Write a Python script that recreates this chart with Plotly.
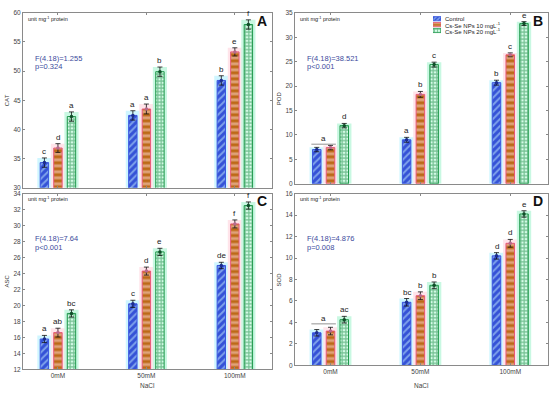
import plotly.graph_objects as go

W, H = 550, 393

categories = ['0mM', '50mM', '100mM']
series_names = ['Control', 'Cs-Se NPs 10 mgL<sup>-1</sup>', 'Cs-Se NPs 20 mgL<sup>-1</sup>']

# Panel A - CAT
cat_ctrl = [34.3, 42.4, 48.4]
cat_ctrl_err = [0.8, 0.8, 0.8]
cat_n10 = [36.8, 43.5, 53.3]
cat_n10_err = [0.75, 0.85, 0.7]
cat_n20 = [42.2, 49.9, 58.0]
cat_n20_err = [0.8, 0.8, 0.8]
cat_letters = [['c', 'a', 'b'], ['d', 'a', 'e'], ['a', 'b', 'f']]

# Panel B - POD
pod_ctrl = [7.0, 9.0, 20.7]
pod_ctrl_err = [0.45, 0.5, 0.5]
pod_n10 = [7.4, 18.3, 26.4]
pod_n10_err = [0.45, 0.6, 0.4]
pod_n20 = [11.9, 24.4, 32.8]
pod_n20_err = [0.45, 0.5, 0.4]
pod_letters = [['', 'a', 'b'], ['', 'b', 'c'], ['d', 'c', 'e']]
pod_bracket = ('a', 0, 8.1)

# Panel C - ASC
asc_ctrl = [15.8, 20.2, 25.0]
asc_ctrl_err = [0.45, 0.45, 0.4]
asc_n10 = [16.6, 24.3, 30.2]
asc_n10_err = [0.55, 0.5, 0.5]
asc_n20 = [19.0, 26.7, 32.5]
asc_n20_err = [0.45, 0.45, 0.45]
asc_letters = [['a', 'c', 'de'], ['ab', 'd', 'f'], ['bc', 'e', 'f']]

# Panel D - SOD
sod_ctrl = [3.04, 5.88, 10.2]
sod_ctrl_err = [0.3, 0.35, 0.3]
sod_n10 = [3.2, 6.49, 11.37]
sod_n10_err = [0.35, 0.36, 0.36]
sod_n20 = [4.26, 7.46, 14.1]
sod_n20_err = [0.31, 0.31, 0.3]
sod_letters = [['', 'bc', 'd'], ['', 'b', 'd'], ['ac', 'b', 'e']]
sod_bracket = ('a', 0, 3.87)

stats = [('F(4.18)=1.255', 'p=0.324'), ('F(4.18)=38.521', 'p<0.001'),
         ('F(4.18)=7.64', 'p<0.001'), ('F(4.18)=4.876', 'p=0.008')]

FONT = 'Liberation Sans, Arial, sans-serif'

def px(x):
    return x / W

def py(y):
    return 1 - y / H

panels = [
    dict(letter='A', ylabel='CAT', yr=[30, 60], dt=5,
         series=[(cat_ctrl, cat_ctrl_err), (cat_n10, cat_n10_err), (cat_n20, cat_n20_err)],
         letters=cat_letters, bracket=None,
         box=(23, 272, 9, 187), xt=False),
    dict(letter='B', ylabel='POD', yr=[0, 35], dt=5,
         series=[(pod_ctrl, pod_ctrl_err), (pod_n10, pod_n10_err), (pod_n20, pod_n20_err)],
         letters=pod_letters, bracket=pod_bracket,
         box=(295, 548, 9, 183), xt=False),
    dict(letter='C', ylabel='ASC', yr=[12, 34], dt=2,
         series=[(asc_ctrl, asc_ctrl_err), (asc_n10, asc_n10_err), (asc_n20, asc_n20_err)],
         letters=asc_letters, bracket=None,
         box=(23, 272, 193, 372), xt=True),
    dict(letter='D', ylabel='SOD', yr=[0, 16], dt=2,
         series=[(sod_ctrl, sod_ctrl_err), (sod_n10, sod_n10_err), (sod_n20, sod_n20_err)],
         letters=sod_letters, bracket=sod_bracket,
         box=(295, 548, 193, 368), xt=True),
]

styles = [
    dict(fg='#c8f2ff', bg='#3452d6', line='#3a55e0', halo='#cff6ff', shape='/', mk='#1b2d8f',
         size=5, sol=0.4),
    dict(fg='#ffd9dc', bg='#bd6a17', line='#e8587a', halo='#ffe4ea', shape='-', mk='#b86a8c',
         size=6, sol=0.5),
    dict(fg='#17873f', bg='#d6fce8', line='#20994c', halo='#c9f8e2', shape='+', mk='#0e4f28',
         size=3.5, sol=0.6),
]
offsets = [-0.153, 0.0, 0.153]
bar_w = 0.095
halo_w = 0.16

fig = go.Figure()
annotations = []
shapes = []
layout = {}

pos = list(range(len(categories)))

for pi, p in enumerate(panels):
    sfx = '' if pi == 0 else str(pi + 1)
    xa, ya = 'x' + sfx, 'y' + sfx
    x0, x1, y0, y1 = p['box']
    for si, (vals, errs) in enumerate(p['series']):
        st = styles[si]
        tops = [v + e for v, e in zip(vals, errs)]
        fig.add_trace(go.Bar(
            x=pos, y=tops, xaxis=xa, yaxis=ya, width=halo_w,
            offset=offsets[si] - halo_w / 2,
            marker=dict(color=st['halo'], line=dict(width=0)),
            showlegend=False, hoverinfo='skip'))
        fig.add_trace(go.Bar(
            x=pos, y=vals, xaxis=xa, yaxis=ya, width=bar_w,
            offset=offsets[si] - bar_w / 2, name=series_names[si],
            marker=dict(color=st['bg'], line=dict(color=st['line'], width=1),
                        pattern=dict(shape=st['shape'], fgcolor=st['fg'], bgcolor=st['bg'],
                                     size=st['size'], solidity=st['sol'], fillmode='overlay')),
            error_y=dict(type='data', array=errs, color='#111111', thickness=0.8, width=2.5),
            showlegend=False))
        fig.add_trace(go.Scatter(
            x=[i + offsets[si] for i in pos], y=vals, xaxis=xa, yaxis=ya, mode='markers',
            marker=dict(size=3.5, color=st['mk']), showlegend=False, hoverinfo='skip'))
        for i in pos:
            lt = p['letters'][si][i]
            if lt:
                annotations.append(dict(x=i + offsets[si], y=tops[i], xref=xa, yref=ya,
                                        text=lt, showarrow=False, yanchor='bottom', yshift=0,
                                        font=dict(size=8, color='#222222', family=FONT)))
    if p['bracket']:
        lt, ci, yv = p['bracket']
        xa0 = ci + offsets[0] - 0.06
        xa1 = ci + offsets[1] + 0.06
        shapes.append(dict(type='line', xref=xa, yref=ya, x0=xa0, x1=xa1, y0=yv, y1=yv,
                           line=dict(color='#777777', width=0.8)))
        annotations.append(dict(x=(xa0 + xa1) / 2, y=yv, xref=xa, yref=ya, text=lt,
                                showarrow=False, yanchor='bottom', yshift=-1,
                                font=dict(size=8, color='#222222', family=FONT)))
    layout['xaxis' + sfx] = dict(
        domain=[px(x0), px(x1)], range=[-0.395, 2.42], anchor=ya,
        tickvals=pos, ticktext=categories, showticklabels=p['xt'],
        ticks='inside', ticklen=2, tickcolor='#888888', mirror='ticks',
        showline=True, linecolor='#8a8a8a', linewidth=1, showgrid=False, zeroline=False,
        tickfont=dict(size=6.5, color='#444444', family=FONT))
    layout['yaxis' + sfx] = dict(
        domain=[py(y1), py(y0)], range=p['yr'], dtick=p['dt'], anchor=xa,
        ticks='inside', ticklen=2, tickcolor='#888888', mirror='ticks',
        showline=True, linecolor='#8a8a8a', linewidth=1, showgrid=False, zeroline=False,
        tickfont=dict(size=6.5, color='#444444', family=FONT))
    annotations.append(dict(x=px(x0 + 3), y=py(y0 + 6), xref='paper', yref='paper',
                            text='unit mg<sup>-1</sup> protein', showarrow=False,
                            xanchor='left', yanchor='middle',
                            font=dict(size=5.5, color='#222222', family=FONT)))
    annotations.append(dict(x=px(x1 - 3), y=py(y0 + 8), xref='paper', yref='paper',
                            text='<b>%s</b>' % p['letter'], showarrow=False,
                            xanchor='right', yanchor='middle',
                            font=dict(size=14, color='#111111', family=FONT)))
    annotations.append(dict(x=px(x0 + 10), y=py(y0 + 46), xref='paper', yref='paper',
                            text=stats[pi][0], showarrow=False, xanchor='left', yanchor='middle',
                            font=dict(size=7.5, color='#3b4a9c', family=FONT)))
    annotations.append(dict(x=px(x0 + 10), y=py(y0 + 55), xref='paper', yref='paper',
                            text=stats[pi][1], showarrow=False, xanchor='left', yanchor='middle',
                            font=dict(size=7.5, color='#3b4a9c', family=FONT)))
    annotations.append(dict(x=px(x0 - 16), y=py((y0 + y1) / 2), xref='paper', yref='paper',
                            text=p['ylabel'], showarrow=False, textangle=-90,
                            xanchor='center', yanchor='middle',
                            font=dict(size=6, color='#333333', family=FONT)))
    if p['xt']:
        annotations.append(dict(x=px((x0 + x1) / 2), y=py(388), xref='paper', yref='paper',
                                text='NaCl', showarrow=False, xanchor='center', yanchor='middle',
                                font=dict(size=6.5, color='#444444', family=FONT)))

# legend swatches as tiny bars on a separate axis
leg_rows = [0, 1, 2]
for si in range(3):
    st = styles[si]
    fig.add_trace(go.Bar(
        x=[1], y=[leg_rows[si]], orientation='h', xaxis='x5', yaxis='y5', width=0.72,
        marker=dict(color=st['bg'], line=dict(color=st['line'], width=0.8),
                    pattern=dict(shape=st['shape'], fgcolor=st['fg'], bgcolor=st['bg'],
                                 size=3, solidity=0.5, fillmode='overlay')),
        showlegend=False, hoverinfo='skip'))
    annotations.append(dict(x=px(443), y=py(15 + 6 * si), xref='paper', yref='paper',
                            text=series_names[si], showarrow=False, xanchor='left',
                            yanchor='middle', font=dict(size=6, color='#222222', family=FONT)))
layout['xaxis5'] = dict(domain=[px(433), px(441)], range=[0, 1], visible=False, anchor='y5')
layout['yaxis5'] = dict(domain=[py(30), py(12)], range=[2.5, -0.5], visible=False, anchor='x5')

fig.update_layout(
    width=W, height=H, margin=dict(l=0, r=0, t=0, b=0),
    paper_bgcolor='white', plot_bgcolor='white', barmode='overlay',
    showlegend=False, annotations=annotations, shapes=shapes,
    font=dict(family=FONT), **layout)

fig.write_html('out.html', config={'displayModeBar': False},
               post_script="document.body.style.margin='0';document.body.style.overflow='hidden';")
